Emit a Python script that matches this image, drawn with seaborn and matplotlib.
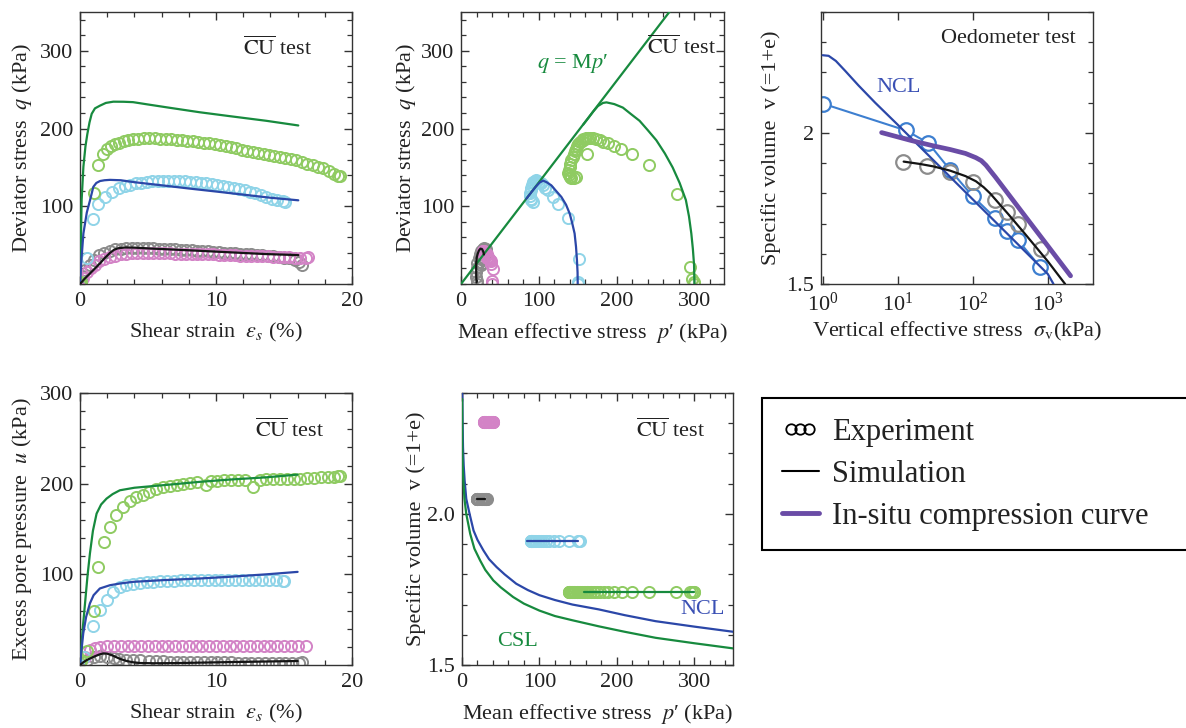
import numpy as np
import matplotlib
matplotlib.use("Agg")
import matplotlib.pyplot as plt
import seaborn as sns
from matplotlib.lines import Line2D
from matplotlib.legend_handler import HandlerLine2D
from matplotlib.ticker import MultipleLocator, FixedLocator, FixedFormatter, NullLocator

# ---------------- colours ----------------
C_GREEN_EXP = '#8fcb62'
C_GREEN_SIM = '#178a3e'
C_CYAN_EXP = '#8fd4e8'
C_BLUE_SIM = '#2b47a8'
C_GRAY_EXP = '#8c8c8c'
C_PINK_EXP = '#d383c6'
C_BLACK = '#141414'
C_PURPLE = '#6a4ca6'
C_OEDO_BLUE = '#3d7fd0'

# ---------------- panel 1 : q vs shear strain ----------------
green_q_eps = [0.0, 0.05, 0.1, 1.03, 1.35, 1.72, 2.0, 2.3, 2.6, 2.9, 3.2, 3.5, 3.9, 4.3, 4.7, 5.1, 5.5, 5.9, 6.3, 6.7,
               7.1, 7.5, 7.9, 8.3, 8.7, 9.1, 9.5, 9.9, 10.3, 10.7, 11.1, 11.5, 11.9, 12.3, 12.7, 13.1, 13.5, 13.9,
               14.3, 14.7, 15.1, 15.5, 15.9, 16.3, 16.7, 17.1, 17.5, 17.9, 18.3, 18.7, 19.0, 19.1]
green_q = [0, 1, 3, 117, 152.6, 166.7, 174, 177, 180, 182, 183.5, 185, 186.5, 187, 187.5, 187.5, 187.5, 187, 186.5, 186,
           185.5, 185, 184.5, 184, 183, 182, 181, 180, 179, 177.5, 176, 174.5, 173, 171.5, 170, 168.5, 167, 166,
           165, 163.5, 162, 160.5, 159, 157, 155, 153, 151, 149, 146, 142, 139, 138.5]
cyan_q_eps = [0.0, 0.1, 0.54, 0.98, 1.35, 1.84, 2.33, 2.9, 3.3, 3.7, 4.1, 4.5, 4.9, 5.3, 5.7, 6.1, 6.5, 6.9, 7.3, 7.7,
              8.1, 8.5, 8.9, 9.3, 9.7, 10.1, 10.5, 10.9, 11.3, 11.7, 12.1, 12.5, 12.9, 13.3, 13.7, 14.1, 14.5, 14.9, 15.1]
cyan_q = [0, 2, 33, 84, 103, 112, 118, 124, 126.5, 128, 129.5, 130.5, 131.5, 132, 132.5, 133, 133, 133, 132.5, 132,
          131.5, 131, 130.5, 129.5, 128.5, 127.5, 126, 125, 124, 122.5, 121, 119, 117, 115, 112, 110, 108, 106.5, 106]
gray_q_eps = [0.0, 0.15, 0.4, 0.7, 1.0, 1.4, 1.8, 2.2, 2.6, 3.0, 3.4, 3.8, 4.2, 4.6, 5.0, 5.4, 5.8, 6.2, 6.6, 7.0,
              7.4, 7.8, 8.2, 8.6, 9.0, 9.4, 9.8, 10.2, 10.6, 11.0, 11.4, 11.8, 12.2, 12.6, 13.0, 13.4, 13.8, 14.2,
              14.6, 15.0, 15.4, 15.8, 16.1, 16.3]
gray_q = [3, 10, 18, 25, 31, 37, 40.5, 43, 44.5, 45.5, 46, 46.5, 46.5, 46.5, 46, 46, 45.5, 45.5, 45, 44.5,
          44, 44, 43.5, 43, 42.5, 42, 41.5, 41, 40.5, 40, 39.5, 39, 38.5, 38, 37.5, 37, 36, 35.5,
          35, 34, 33, 31.5, 28, 25]
pink_q_eps = [0.0, 0.2, 0.5, 0.8, 1.1, 1.4, 1.8, 2.2, 2.6, 3.0, 3.4, 3.8, 4.2, 4.6, 5.0, 5.4, 5.8, 6.2, 6.6, 7.0,
              7.4, 7.8, 8.2, 8.6, 9.0, 9.4, 9.8, 10.2, 10.6, 11.0, 11.4, 11.8, 12.2, 12.6, 13.0, 13.4, 13.8, 14.2,
              14.6, 15.0, 15.4, 15.8, 16.2, 16.6, 16.8]
pink_q = [3, 8, 15, 21, 25, 29, 32, 34.5, 36.5, 38, 39, 39.5, 40, 40, 40, 40, 39.5, 39.5, 39.5, 39,
          39, 39, 38.5, 38.5, 38.5, 38, 38, 37.5, 37.5, 37, 37, 36.5, 36.5, 36, 36, 35.5, 35.5, 35,
          35, 34.5, 34.5, 34, 34, 34, 34.5]
green_sim_q_eps = [0, 0.06, 0.12, 0.25, 0.4, 0.54, 0.7, 0.86, 1.1, 1.47, 1.9, 2.45, 3.2, 3.9, 5.0, 6.5, 8.8, 11.0, 13.7, 16.05]
green_sim_q = [0, 50, 108, 151, 177, 193, 208, 219, 226, 229.5, 233, 234.6, 234.5, 234, 231, 227, 221, 216, 210, 204]
blue_sim_q_eps = [0, 0.1, 0.25, 0.5, 0.74, 0.98, 1.2, 1.47, 1.8, 2.2, 3.0, 4.0, 6.0, 8.1, 10.0, 12.0, 14.0, 16.05]
blue_sim_q = [0, 30, 65, 92, 108, 125, 130, 132.5, 133.5, 134, 133.5, 131, 127, 122.7, 119, 115, 111, 107.7]
black_sim_q_eps = [0, 0.3, 0.74, 1.1, 1.47, 1.8, 2.2, 2.5, 2.8, 3.3, 4.0, 5.15, 7.0, 8.8, 11.0, 13.7, 16.05]
black_sim_q = [0, 6, 13.7, 20, 26.5, 33, 40, 44, 46, 47, 46.8, 45.7, 44.2, 42.7, 40.8, 38.5, 37.2]

# ---------------- panel 2 : q vs p' ----------------
csl_line_p = [0, 280]
csl_line_q = [0, 366]
green_p = [300, 299, 297, 294, 277, 242, 220, 206, 196, 189, 183, 178, 174, 170, 166, 163, 161, 159, 157, 155,
           153, 151, 149.5, 148, 146.5, 145, 143.5, 142, 140.5, 139.5, 138.5, 138, 138.5, 140, 142, 145, 148, 162]
green_pq = [0, 3, 6, 22, 116, 153, 167, 174, 178, 181, 183, 185, 186.5, 187.5, 188, 188, 187.5, 187, 186, 184.5,
            182.5, 180, 177, 174, 170.5, 167, 163, 159, 155, 151, 147, 143, 140, 138, 137, 137, 137.5, 167]
cyan_p = [150, 150.5, 152, 137.6, 124.8, 118.4, 112, 108, 105, 102.5, 100, 98, 96, 94.5, 93, 92, 91, 90, 89.5, 89,
          89, 89.5, 90.5, 92]
cyan_pq = [0, 2, 31.6, 85.5, 103.4, 112, 120.5, 124, 127, 129.5, 131.5, 133, 133.5, 133, 131.5, 129.5, 127, 124, 120.5, 117,
           113, 110, 108, 106]
gray_p = [20, 20, 19.5, 19.5, 20, 21, 22.5, 24, 26, 28, 30, 31.5, 32, 31.5, 30.5, 29.5, 28, 26.5, 25.5]
gray_pq = [0, 4, 9, 15, 21, 27, 33, 38, 42, 45, 46.5, 45.5, 43, 40, 37, 34, 31, 27, 25]
pink_p = [40, 40, 40.5, 39, 37, 35, 33, 31, 29.5, 28.5, 28, 28.5, 30, 31.5, 33, 34.5, 36, 37.5, 39]
pink_pq = [0, 4, 19, 26, 31, 35, 38, 40, 42, 43, 42, 40, 38, 36, 34, 33, 32, 31, 30]
green_sim_p = [300, 299.5, 298, 296, 293, 289, 281, 272, 262, 251, 240, 229.5, 218, 208, 197, 187, 182.5, 176, 170, 164, 157]
green_sim_pq = [0, 25, 45, 65, 87, 108, 130, 150, 168, 185, 198, 210, 219, 227, 231.5, 233.7, 233, 229, 222, 214, 205]
blue_sim_p = [150, 149.8, 149, 147.8, 146, 143, 139.7, 135, 129, 122, 116, 110, 105.5, 101, 96, 90, 84]
blue_sim_pq = [0, 15, 31, 48, 65, 78, 90.6, 102, 112, 120, 127, 131, 133, 130.5, 125, 117.5, 109.7]
black_sim_p = [20, 19.6, 19.5, 19.6, 20.2, 21.5, 23, 25, 27, 28.5, 29.5]
black_sim_pq = [2, 10, 20, 28, 34, 39, 43, 45.5, 45, 42, 38]

# ---------------- panel 3 : oedometer ----------------
ncl_oedo_s = [1, 1.2, 1.5, 2, 3, 5, 10, 100, 1000, 1190]
ncl_oedo_v = [2.257, 2.255, 2.238, 2.205, 2.157, 2.10, 2.027, 1.78, 1.533, 1.5]
oedo_blue_s = [1, 12.9, 25.7, 50, 100, 198, 284, 400, 786]
oedo_blue_v = [2.097, 2.008, 1.966, 1.877, 1.79, 1.719, 1.677, 1.645, 1.557]
oedo_gray_s = [11.9, 24.4, 50, 100, 200, 287, 400, 800]
oedo_gray_v = [1.904, 1.891, 1.871, 1.838, 1.779, 1.738, 1.70, 1.616]
oedo_sim_s = [12, 20, 30, 50, 80, 110, 140, 170, 200, 300, 500, 1000, 1700]
oedo_sim_v = [1.905, 1.897, 1.889, 1.875, 1.857, 1.84, 1.82, 1.80, 1.78, 1.73, 1.665, 1.575, 1.5]
insitu_s = [6.1, 15, 30, 50, 80, 110, 130, 150, 175, 200, 500, 1000, 2010]
insitu_v = [2.001, 1.975, 1.957, 1.945, 1.932, 1.918, 1.908, 1.893, 1.872, 1.854, 1.724, 1.626, 1.527]

# ---------------- panel 4 : u vs shear strain ----------------
green_u_eps = [0.0, 0.1, 0.54, 1.05, 1.34, 1.78, 2.2, 2.68, 3.17, 3.66, 4.15, 4.6, 5.1, 5.6, 6.1, 6.6, 7.1, 7.6, 8.1, 8.6,
               9.3, 9.6, 10.1, 10.6, 11.1, 11.6, 12.1, 12.7, 13.2, 13.7, 14.2, 14.7, 15.2, 15.7, 16.2, 16.7, 17.2, 17.7,
               18.2, 18.7, 19.0, 19.1]
green_u = [2, 4, 15, 60, 108, 136, 152, 165, 174, 181, 185, 188, 191, 194, 196, 197.5, 199, 200, 201, 202,
           198, 202.5, 203, 203.5, 204, 204, 204, 196, 204.5, 205, 205, 205.5, 205.5, 205.5, 205.5, 206, 206.5, 207,
           207, 207.5, 208, 209]
cyan_u_eps = [0.0, 0.3, 0.93, 1.46, 1.95, 2.44, 2.93, 3.4, 3.9, 4.4, 4.9, 5.4, 5.9, 6.4, 6.9, 7.4, 7.9, 8.4, 8.9, 9.4,
              9.9, 10.4, 10.9, 11.4, 11.9, 12.4, 12.9, 13.4, 13.9, 14.4, 14.9, 15.0]
cyan_u = [0, 9, 43, 60.5, 71.5, 81, 86, 88, 89.5, 90.5, 91.5, 92, 92.5, 93, 93, 93.5, 93.5, 93.5, 93.5, 93.5,
          93.5, 93.5, 93.5, 93.5, 93.5, 93.5, 93.5, 93.5, 93.5, 93.5, 93, 93]
pink_u_eps = [0.0, 0.37, 0.73, 1.1, 1.5, 2.0, 2.5, 3.0, 3.5, 4.0, 4.5, 5.0, 5.5, 6.0, 6.5, 7.0, 7.5, 8.0, 8.5, 9.0,
              9.5, 10.0, 10.5, 11.0, 11.5, 12.0, 12.5, 13.0, 13.5, 14.0, 14.5, 15.0, 15.5, 16.0, 16.6]
pink_u = [0, 9, 16.5, 19, 20, 20.5, 21, 21, 21, 21, 21, 21, 21, 21, 21, 21, 21, 21, 21, 21,
          21, 21, 21, 21, 21, 21, 21, 21, 21, 21, 21, 21, 21, 21, 21]
gray_u_eps = [0.0, 0.5, 1.0, 1.46, 2.0, 2.5, 2.9, 3.4, 3.9, 4.4, 5.1, 5.6, 6.1, 6.6, 7.1, 7.6, 8.1, 8.6, 9.1, 9.6,
              10.1, 10.6, 11.1, 11.6, 12.1, 12.6, 13.1, 13.6, 14.1, 14.6, 15.1, 15.6, 16.1, 16.3]
gray_u = [0, 6, 8.5, 9.5, 9, 8, 7, 6, 5.5, 5, 4.5, 4.2, 4, 3.8, 3.6, 3.4, 3.2, 3, 3, 3,
          2.8, 2.8, 2.8, 2.6, 2.6, 2.6, 2.5, 2.5, 2.5, 2.5, 2.5, 2.5, 2.5, 2.8]
green_sim_u_eps = [0, 0.1, 0.2, 0.37, 0.55, 0.73, 0.95, 1.22, 1.55, 1.95, 2.4, 2.93, 4.0, 5.1, 7.0, 8.8, 11.0, 13.7, 16.0]
green_sim_u = [0, 20, 40, 68, 98, 123, 148, 167, 177, 183.5, 188.5, 192.7, 195.5, 197, 199.5, 202, 204.5, 207, 210]
blue_sim_u_eps = [0, 0.1, 0.24, 0.45, 0.73, 1.0, 1.46, 2.2, 3.0, 3.9, 6.0, 8.8, 11.0, 13.7, 16.0]
blue_sim_u = [0, 15, 35, 53, 68, 77, 84.4, 88, 90, 91.7, 93.5, 95.4, 97.3, 100, 102.7]
black_sim_u_eps = [0, 0.25, 0.5, 1.0, 1.4, 1.7, 2.0, 2.4, 2.9, 3.4, 3.9, 4.4, 5.5, 7.0, 8.8, 11, 13.5, 16.0]
black_sim_u = [0, 3, 5.5, 9, 11.5, 12.8, 12.5, 10.5, 7, 4.5, 3, 2.2, 1.9, 2.1, 2.6, 3.2, 3.8, 4.4]

# ---------------- panel 5 : v vs p' ----------------
v_gray = 2.05
v_pink = 2.305
v_cyan = 1.91
v_green = 1.74
ncl_p = [0.3, 0.7, 1.3, 2.2, 3.4, 5.5, 9.8, 14.9, 20, 27.7, 35, 44.7, 55, 70, 85, 100, 120, 142.6, 176.6, 210, 250,
         300, 350]
ncl_v = [2.40, 2.31, 2.22, 2.16, 2.11, 2.05, 2.0, 1.945, 1.914, 1.879, 1.85, 1.824, 1.80, 1.769, 1.748, 1.731, 1.715,
         1.70, 1.684, 1.665, 1.645, 1.627, 1.61]
csl_p = [0.2, 0.4, 0.8, 1.7, 3.2, 5.5, 10.6, 16, 23.4, 30, 40.4, 50, 66, 80, 100, 120, 142.6, 176.6, 210, 250, 300, 350]
csl_v = [2.38, 2.22, 2.16, 2.11, 2.05, 2.0, 1.934, 1.885, 1.846, 1.815, 1.78, 1.757, 1.725, 1.703, 1.68, 1.662,
         1.648, 1.628, 1.61, 1.59, 1.572, 1.555]

legend_labels = ['Experiment', 'Simulation', 'In-situ compression curve']

# ---------------- style ----------------
sns.set_theme(style='ticks')
plt.rcParams.update({
    'font.family': ['Liberation Serif', 'DejaVu Serif'],
    'mathtext.fontset': 'stix',
    'font.size': 16,
    'axes.labelsize': 16,
    'xtick.labelsize': 16,
    'ytick.labelsize': 16,
    'axes.edgecolor': '#333333',
    'axes.linewidth': 1.0,
    'axes.labelcolor': '#222222',
    'text.color': '#222222',
    'xtick.color': '#333333',
    'ytick.color': '#333333',
    'xtick.labelcolor': '#222222',
    'ytick.labelcolor': '#222222',
    'xtick.direction': 'in',
    'ytick.direction': 'in',
    'xtick.top': True,
    'ytick.right': True,
    'xtick.major.size': 6, 'ytick.major.size': 6,
    'xtick.minor.size': 3.5, 'ytick.minor.size': 3.5,
    'xtick.major.width': 1.0, 'ytick.major.width': 1.0,
    'xtick.minor.width': 0.9, 'ytick.minor.width': 0.9,
})

fig = plt.figure(figsize=(11.86, 7.28), dpi=100)
W, H = 1186.0, 728.0


def add_axes(l, t, r, b):
    return fig.add_axes([l / W, 1 - b / H, (r - l) / W, (b - t) / H])


ax1 = add_axes(80, 12, 352, 284)
ax2 = add_axes(461, 12, 724, 284)
ax3 = add_axes(821, 12, 1093, 284)
ax4 = add_axes(80, 393, 352, 665)
ax5 = add_axes(462, 393, 733, 665)


def circles(ax, x, y, color, ms=8.0, mew=1.4, z=2, mfc='none'):
    sns.lineplot(x=x, y=y, ax=ax, sort=False, estimator=None, color=color, marker='o',
                 linestyle='', markersize=ms, markerfacecolor=mfc, markeredgecolor=color,
                 markeredgewidth=mew, legend=False, zorder=z)


def curve(ax, x, y, color, lw=1.6, z=3):
    sns.lineplot(x=x, y=y, ax=ax, sort=False, estimator=None, color=color, linewidth=lw,
                 legend=False, zorder=z)


def cu_text(ax, x, y):
    ax.text(x, y, r'$\overline{\mathrm{CU}}$ test', transform=ax.transAxes, fontsize=16,
            ha='left', va='baseline')


PLABEL = "Mean effective stress  $p$\u2032 (kPa)"

# ---- panel 1 ----
circles(ax1, gray_q_eps, gray_q, C_GRAY_EXP)
circles(ax1, pink_q_eps, pink_q, C_PINK_EXP)
circles(ax1, cyan_q_eps, cyan_q, C_CYAN_EXP)
circles(ax1, green_q_eps, green_q, C_GREEN_EXP)
curve(ax1, green_sim_q_eps, green_sim_q, C_GREEN_SIM)
curve(ax1, blue_sim_q_eps, blue_sim_q, C_BLUE_SIM)
curve(ax1, black_sim_q_eps, black_sim_q, C_BLACK)
ax1.set_xlim(0, 20)
ax1.set_ylim(0, 350)
ax1.xaxis.set_major_locator(FixedLocator([0, 10, 20]))
ax1.xaxis.set_minor_locator(MultipleLocator(2))
ax1.yaxis.set_major_locator(FixedLocator([100, 200, 300]))
ax1.yaxis.set_minor_locator(MultipleLocator(20))
ax1.set_xlabel(r'Shear strain  $\varepsilon_s$ (%)', labelpad=7)
ax1.set_ylabel(r'Deviator stress  $q$ (kPa)')
cu_text(ax1, 0.60, 0.842)

# ---- panel 2 ----
curve(ax2, csl_line_p, csl_line_q, C_GREEN_SIM, lw=1.6, z=3)
circles(ax2, gray_p, gray_pq, C_GRAY_EXP)
circles(ax2, pink_p, pink_pq, C_PINK_EXP)
circles(ax2, cyan_p, cyan_pq, C_CYAN_EXP)
circles(ax2, green_p, green_pq, C_GREEN_EXP)
curve(ax2, green_sim_p, green_sim_pq, C_GREEN_SIM, z=4)
curve(ax2, blue_sim_p, blue_sim_pq, C_BLUE_SIM, z=4)
curve(ax2, black_sim_p, black_sim_pq, C_BLACK, z=4)
ax2.set_xlim(0, 338)
ax2.set_ylim(0, 350)
ax2.xaxis.set_major_locator(FixedLocator([0, 100, 200, 300]))
ax2.xaxis.set_minor_locator(MultipleLocator(20))
ax2.yaxis.set_major_locator(FixedLocator([100, 200, 300]))
ax2.yaxis.set_minor_locator(MultipleLocator(20))
ax2.set_xlabel(PLABEL, labelpad=7)
ax2.set_ylabel(r'Deviator stress  $q$ (kPa)', labelpad=2)
cu_text(ax2, 0.707, 0.845)
ax2.text(0.289, 0.794, "$q$ = M$p$\u2032", transform=ax2.transAxes, fontsize=16,
         color=C_GREEN_SIM, ha='left', va='baseline')

# ---- panel 3 ----
ax3.set_xscale('log')
curve(ax3, oedo_blue_s, oedo_blue_v, C_OEDO_BLUE, lw=1.5, z=2)
circles(ax3, oedo_blue_s, oedo_blue_v, C_OEDO_BLUE, ms=10.5, mew=1.6, z=2.5, mfc='white')
circles(ax3, oedo_gray_s, oedo_gray_v, C_GRAY_EXP, ms=10.5, mew=1.6, z=3)
curve(ax3, ncl_oedo_s, ncl_oedo_v, C_BLUE_SIM, lw=1.6, z=4)
curve(ax3, oedo_sim_s, oedo_sim_v, C_BLACK, lw=1.6, z=4)
curve(ax3, insitu_s, insitu_v, C_PURPLE, lw=3.4, z=5)
ax3.set_xlim(0.95, 4000)
ax3.set_ylim(1.5, 2.4)
ax3.xaxis.set_minor_locator(NullLocator())
ax3.yaxis.set_major_locator(FixedLocator([1.5, 2.0]))
ax3.yaxis.set_major_formatter(FixedFormatter(['1.5', '2']))
ax3.yaxis.set_minor_locator(MultipleLocator(0.1))
ax3.set_xlabel(r'Vertical effective stress  $\sigma_{\rm v}$(kPa)', labelpad=3)
ax3.set_ylabel('Specific volume  v (=1+e)')
ax3.text(0.441, 0.886, 'Oedometer test', transform=ax3.transAxes, fontsize=16, ha='left', va='baseline')
ax3.text(0.202, 0.706, 'NCL', transform=ax3.transAxes, fontsize=16, color='#3a50b4', ha='left', va='baseline')

# ---- panel 4 ----
circles(ax4, gray_u_eps, gray_u, C_GRAY_EXP)
circles(ax4, pink_u_eps, pink_u, C_PINK_EXP)
circles(ax4, cyan_u_eps, cyan_u, C_CYAN_EXP)
circles(ax4, green_u_eps, green_u, C_GREEN_EXP)
curve(ax4, green_sim_u_eps, green_sim_u, C_GREEN_SIM)
curve(ax4, blue_sim_u_eps, blue_sim_u, C_BLUE_SIM)
curve(ax4, black_sim_u_eps, black_sim_u, C_BLACK)
ax4.set_xlim(0, 20)
ax4.set_ylim(0, 300)
ax4.xaxis.set_major_locator(FixedLocator([0, 10, 20]))
ax4.xaxis.set_minor_locator(MultipleLocator(2))
ax4.yaxis.set_major_locator(FixedLocator([100, 200, 300]))
ax4.yaxis.set_minor_locator(MultipleLocator(20))
ax4.set_xlabel(r'Shear strain  $\varepsilon_s$ (%)', labelpad=7)
ax4.set_ylabel(r'Excess pore pressure  $u$ (kPa)')
cu_text(ax4, 0.643, 0.838)

# ---- panel 5 ----
curve(ax5, ncl_p, ncl_v, C_BLUE_SIM, lw=1.6, z=3)
curve(ax5, csl_p, csl_v, C_GREEN_SIM, lw=1.6, z=3)
circles(ax5, pink_p, [v_pink] * len(pink_p), C_PINK_EXP)
circles(ax5, gray_p, [v_gray] * len(gray_p), C_GRAY_EXP)
circles(ax5, cyan_p, [v_cyan] * len(cyan_p), C_CYAN_EXP)
circles(ax5, green_p, [v_green] * len(green_p), C_GREEN_EXP)
curve(ax5, black_sim_p, [v_gray] * len(black_sim_p), C_BLACK, z=4)
curve(ax5, blue_sim_p, [v_cyan] * len(blue_sim_p), C_BLUE_SIM, z=4)
curve(ax5, green_sim_p, [v_green] * len(green_sim_p), C_GREEN_SIM, z=4)
ax5.set_xlim(0, 350)
ax5.set_ylim(1.5, 2.4)
ax5.xaxis.set_major_locator(FixedLocator([0, 100, 200, 300]))
ax5.xaxis.set_minor_locator(MultipleLocator(20))
ax5.yaxis.set_major_locator(FixedLocator([1.5, 2.0]))
ax5.yaxis.set_major_formatter(FixedFormatter(['1.5', '2.0']))
ax5.yaxis.set_minor_locator(MultipleLocator(0.1))
ax5.set_xlabel(PLABEL, labelpad=7)
ax5.set_ylabel('Specific volume  v (=1+e)', labelpad=1)
cu_text(ax5, 0.642, 0.838)
ax5.text(0.804, 0.1875, 'NCL', transform=ax5.transAxes, fontsize=16, color='#3a50b4', ha='left', va='baseline')
ax5.text(0.129, 0.07, 'CSL', transform=ax5.transAxes, fontsize=16, color=C_GREEN_SIM, ha='left', va='baseline')

for ax in (ax1, ax2, ax3, ax4, ax5):
    ax.tick_params(which='both', direction='in', top=True, right=True)
    ax.tick_params(axis='x', which='major', pad=6)
    ax.tick_params(axis='y', which='major', pad=5)
    for s in ax.spines.values():
        s.set_visible(True)


# ---- legend ----
class HandlerTriple(HandlerLine2D):
    def get_xdata(self, legend, xdescent, ydescent, width, height, fontsize):
        c = -xdescent + width / 2.0
        xs = np.array([c - 6.5, c, c + 6.5])
        return xs, xs


h_exp = Line2D([], [], linestyle='', marker='o', markersize=7.5, markerfacecolor='none',
               markeredgecolor='black', markeredgewidth=1.3)
h_sim = Line2D([], [], color='black', linewidth=1.5)
h_ins = Line2D([], [], color=C_PURPLE, linewidth=3.5)
leg = fig.legend([h_exp, h_sim, h_ins], legend_labels,
                 loc='upper left', bbox_to_anchor=(762 / W, 1 - 398 / H, 0.42, 0),
                 mode='expand', borderaxespad=0, fontsize=22, frameon=True, fancybox=False,
                 framealpha=1, edgecolor='black', handlelength=1.2, handletextpad=0.45,
                 borderpad=0.65, labelspacing=0.42,
                 handler_map={h_exp: HandlerTriple(numpoints=3)})
leg.get_frame().set_linewidth(1.5)

fig.savefig('out.png', dpi=100)
